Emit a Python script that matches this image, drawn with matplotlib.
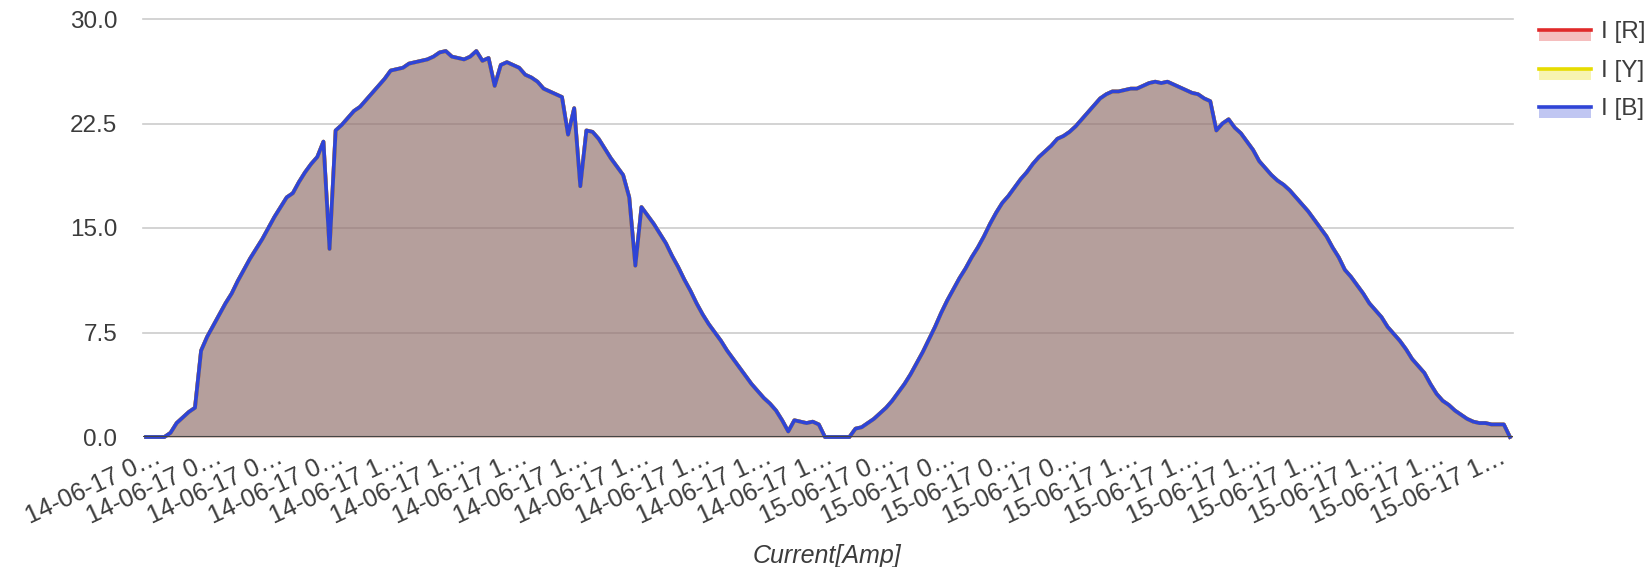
import matplotlib
matplotlib.use("Agg")
import matplotlib.pyplot as plt
from matplotlib.patches import Rectangle
from matplotlib.lines import Line2D
from matplotlib.transforms import ScaledTranslation

plt.rcParams['font.family'] = ['Liberation Sans', 'DejaVu Sans']

# ---- data -------------------------------------------------------------
current_values = [
    0, 0, 0, 0, 0.3, 1.0, 1.4, 1.8, 2.1, 6.2,
    7.2, 8.0, 8.8, 9.6, 10.3, 11.2, 12.0, 12.8, 13.5, 14.2,
    15.0, 15.8, 16.5, 17.2, 17.5, 18.3, 19.0, 19.6, 20.1, 21.2,
    13.5, 22.0, 22.4, 22.9, 23.4, 23.7, 24.2, 24.7, 25.2, 25.7,
    26.3, 26.4, 26.5, 26.8, 26.9, 27.0, 27.1, 27.3, 27.6, 27.7,
    27.3, 27.2, 27.1, 27.3, 27.7, 27.0, 27.2, 25.2, 26.7, 26.9,
    26.7, 26.5, 26.0, 25.8, 25.5, 25.0, 24.8, 24.6, 24.4, 21.7,
    23.6, 18.0, 22.0, 21.9, 21.4, 20.7, 20.0, 19.4, 18.8, 17.2,
    12.3, 16.5, 15.9, 15.3, 14.6, 13.9, 13.0, 12.2, 11.3, 10.5,
    9.6, 8.8, 8.1, 7.5, 6.9, 6.2, 5.6, 5.0, 4.4, 3.8,
    3.3, 2.8, 2.4, 1.9, 1.2, 0.4, 1.2, 1.1, 1.0, 1.1,
    0.9, 0, 0, 0, 0, 0, 0.6, 0.7, 1.0, 1.3,
    1.7, 2.1, 2.6, 3.2, 3.8, 4.5, 5.3, 6.1, 7.0, 7.9,
    8.9, 9.8, 10.6, 11.4, 12.1, 12.9, 13.6, 14.4, 15.3, 16.1,
    16.8, 17.3, 17.9, 18.5, 19.0, 19.6, 20.1, 20.5, 20.9, 21.4,
    21.6, 21.9, 22.3, 22.8, 23.3, 23.8, 24.3, 24.6, 24.8, 24.8,
    24.9, 25.0, 25.0, 25.2, 25.4, 25.5, 25.4, 25.5, 25.3, 25.1,
    24.9, 24.7, 24.6, 24.3, 24.1, 22.0, 22.5, 22.8, 22.2, 21.8,
    21.2, 20.6, 19.8, 19.3, 18.8, 18.4, 18.1, 17.7, 17.2, 16.7,
    16.2, 15.6, 15.0, 14.4, 13.6, 12.9, 12.0, 11.5, 10.9, 10.3,
    9.6, 9.1, 8.6, 7.9, 7.4, 6.9, 6.3, 5.6, 5.1, 4.6,
    3.8, 3.1, 2.6, 2.3, 1.9, 1.6, 1.3, 1.1, 1.0, 1.0,
    0.9, 0.9, 0.9, 0.0,
]
i_r = list(current_values)
i_y = list(current_values)
i_b = list(current_values)

series_names = ['I [R]', 'I [Y]', 'I [B]']
series_colors = ['#e02a2a', '#e6dc00', '#2f44d6']

tick_labels = (['14-06-17 0\u2026'] * 4 + ['14-06-17 1\u2026'] * 8 +
               ['15-06-17 0\u2026'] * 4 + ['15-06-17 1\u2026'] * 7)
label_every = 10

y_ticks = [0, 7.5, 15, 22.5, 30]
y_tick_labels = ['0.0', '7.5', '15.0', '22.5', '30.0']

# ---- figure -----------------------------------------------------------
W, H = 1651, 567
fig = plt.figure(figsize=(W / 100, H / 100), dpi=100)
ax = fig.add_axes([143 / W, 1 - 437 / H, 1370 / W, 418 / H])

n = len(current_values)
x = list(range(n))
txt_color = '#3c3c3c'
fs = 17.5

for yv in y_ticks[1:]:
    ax.axhline(yv, color='#cccccc', lw=1.2, zorder=0, clip_on=False)

for vals, col in zip([i_r, i_y, i_b], series_colors):
    ax.fill_between(x, 0, vals, color=col, alpha=0.3, lw=0, zorder=1)
for vals, col in zip([i_r, i_y, i_b], series_colors):
    ax.plot(x, vals, color=col, lw=2.7, zorder=3, solid_joinstyle='round',
            clip_on=False)

ax.axhline(0, color='#444444', lw=1.5, zorder=4)

ax.set_xlim(-0.5, n - 0.5)
ax.set_ylim(0, 30)
for s in ax.spines.values():
    s.set_visible(False)

ax.set_yticks(y_ticks)
ax.set_yticklabels(y_tick_labels, fontsize=fs, color=txt_color)
ax.tick_params(axis='y', length=0, pad=18.5)

ax.set_xticks(list(range(0, n, label_every))[:len(tick_labels)])
ax.set_xticklabels(tick_labels, fontsize=18, color=txt_color, rotation=25,
                   ha='right', va='top', rotation_mode='anchor')
ax.tick_params(axis='x', length=0, pad=6)
shift = ScaledTranslation(8 / 100, 0, fig.dpi_scale_trans)
for lbl in ax.get_xticklabels():
    lbl.set_transform(lbl.get_transform() + shift)

fig.text(827 / W, 1 - 556 / H, 'Current[Amp]', style='italic',
         fontsize=18, color=txt_color, ha='center', va='center')

# ---- legend (drawn in figure pixel coordinates) -----------------------
leg_x0, leg_x1 = 1539, 1591
leg_y = [30, 68.5, 107]
for yy, name, col in zip(leg_y, series_names, series_colors):
    fig.add_artist(Rectangle((leg_x0 / W, 1 - (yy + 11) / H),
                             (leg_x1 - leg_x0) / W, 11 / H,
                             transform=fig.transFigure, color=col,
                             alpha=0.3, lw=0))
    fig.add_artist(Line2D([leg_x0 / W, leg_x1 / W], [1 - yy / H, 1 - yy / H],
                          transform=fig.transFigure, color=col, lw=2.6))
    fig.text(1601 / W, 1 - (yy + 2) / H, name, fontsize=fs, color=txt_color,
             ha='left', va='center')

fig.savefig('out.png', dpi=100)
